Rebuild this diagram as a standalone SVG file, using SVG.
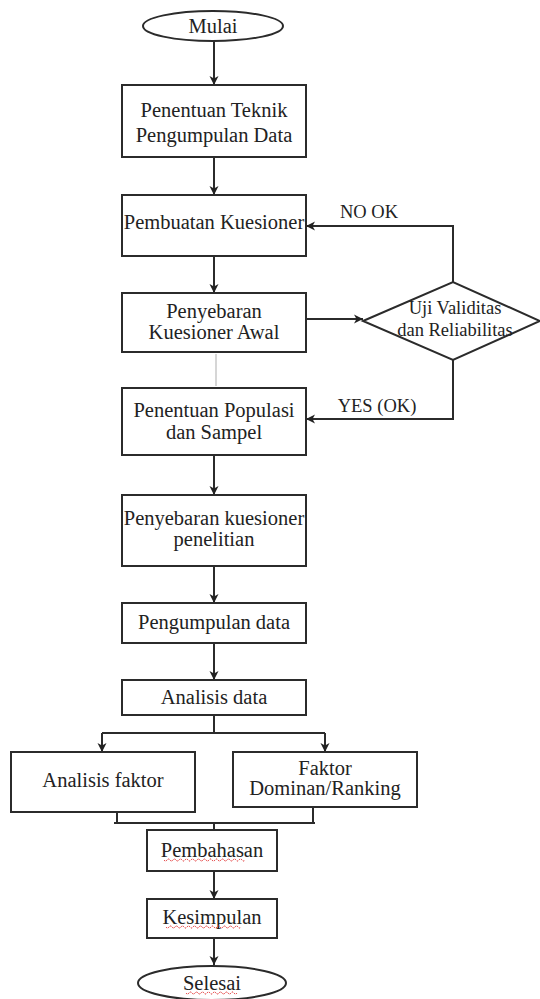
<svg xmlns="http://www.w3.org/2000/svg" width="540" height="999" viewBox="0 0 540 999">
<style>
.box{fill:#fff;stroke:#2b2b2b;stroke-width:2}
.t{font-family:"Liberation Serif","Times New Roman",serif;font-size:20.5px;fill:#222;text-anchor:middle}
.s{font-family:"Liberation Serif","Times New Roman",serif;font-size:18.5px;fill:#222;text-anchor:middle}
.c{fill:none;stroke:#2b2b2b;stroke-width:2}
.wave{fill:none;stroke:#e02020;stroke-width:1;stroke-dasharray:1.5 1}
</style>
<defs>
<marker id="ah" markerUnits="userSpaceOnUse" markerWidth="12" markerHeight="12" refX="10" refY="6" orient="auto">
<path d="M1,1.5 L10,6 L1,10.5 L3.5,6 Z" fill="#222"/>
</marker>
</defs>
<rect width="540" height="999" fill="#fff"/>
<g id="connectors">
<line class="c" x1="214" y1="41" x2="214" y2="85" marker-end="url(#ah)"/>
<line class="c" x1="214" y1="157" x2="214" y2="195" marker-end="url(#ah)"/>
<line class="c" x1="214" y1="256" x2="214" y2="293" marker-end="url(#ah)"/>
<line class="c" x1="306" y1="319" x2="363" y2="319" marker-end="url(#ah)"/>
<polyline class="c" points="453,282 453,226 306,226" marker-end="url(#ah)"/>
<polyline class="c" points="453,360 453,419 306,419" marker-end="url(#ah)"/>
<line x1="216" y1="354" x2="216" y2="386" stroke="#c8c8c8" stroke-width="1.5"/>
<line class="c" x1="214" y1="455" x2="214" y2="495" marker-end="url(#ah)"/>
<line class="c" x1="214" y1="566" x2="214" y2="603" marker-end="url(#ah)"/>
<line class="c" x1="214" y1="643" x2="214" y2="680" marker-end="url(#ah)"/>
<line class="c" x1="214" y1="715" x2="214" y2="733"/>
<line class="c" x1="102" y1="733" x2="325" y2="733"/>
<line class="c" x1="102" y1="733" x2="102" y2="752" marker-end="url(#ah)"/>
<line class="c" x1="325" y1="733" x2="325" y2="752" marker-end="url(#ah)"/>
<line class="c" x1="117" y1="812" x2="117" y2="823"/>
<line class="c" x1="313" y1="808" x2="313" y2="823"/>
<line class="c" x1="114" y1="823" x2="315" y2="823"/>
<line class="c" x1="214" y1="823" x2="214" y2="830"/>
<line class="c" x1="214" y1="871" x2="214" y2="899" marker-end="url(#ah)"/>
<line class="c" x1="214" y1="938" x2="214" y2="965" marker-end="url(#ah)"/>
</g>
<g id="mulai">
<ellipse class="box" cx="213" cy="26" rx="70" ry="15"/>
<text class="t" x="213" y="33">Mulai</text>
</g>
<g id="teknik">
<rect class="box" x="122" y="85" width="184" height="72"/>
<text class="t" x="214" y="117">Penentuan Teknik</text>
<text class="t" x="214" y="142">Pengumpulan Data</text>
</g>
<g id="pembuatan">
<rect class="box" x="122" y="195" width="184" height="61"/>
<text class="t" x="214" y="229">Pembuatan Kuesioner</text>
</g>
<g id="awal">
<rect class="box" x="122" y="293" width="184" height="59"/>
<text class="t" x="214" y="318">Penyebaran</text>
<text class="t" x="214" y="339">Kuesioner Awal</text>
</g>
<g id="uji">
<polygon class="box" points="363,321 453,282 540,321 453,360"/>
<text class="s" x="455" y="314">Uji Validitas</text>
<text class="s" x="455" y="336">dan Reliabilitas</text>
</g>
<g id="labels">
<text class="s" x="369" y="218">NO OK</text>
<text class="s" x="377" y="412">YES (OK)</text>
</g>
<g id="populasi">
<rect class="box" x="122" y="388" width="184" height="67"/>
<text class="t" x="214" y="417">Penentuan Populasi</text>
<text class="t" x="214" y="439">dan Sampel</text>
</g>
<g id="penelitian">
<rect class="box" x="122" y="495" width="184" height="71"/>
<text class="t" x="214" y="525">Penyebaran kuesioner</text>
<text class="t" x="214" y="546">penelitian</text>
</g>
<g id="pengumpulan">
<rect class="box" x="122" y="603" width="184" height="40"/>
<text class="t" x="214" y="629">Pengumpulan data</text>
</g>
<g id="analisis">
<rect class="box" x="122" y="680" width="184" height="35"/>
<text class="t" x="214" y="704">Analisis data</text>
</g>
<g id="faktor">
<rect class="box" x="11" y="752" width="184" height="60"/>
<text class="t" x="103" y="787">Analisis faktor</text>
</g>
<g id="ranking">
<rect class="box" x="233" y="752" width="184" height="55"/>
<text class="t" x="325" y="775">Faktor</text>
<text class="t" x="325" y="795">Dominan/Ranking</text>
</g>
<g id="pembahasan">
<rect class="box" x="147" y="830" width="130" height="41"/>
<text class="t" x="212" y="857">Pembahasan</text>
<path class="wave" d="M164,860 q1.5,2 3,0 t3,0 t3,0 t3,0 t3,0 t3,0 t3,0 t3,0 t3,0 t3,0 t3,0 t3,0 t3,0 t3,0 t3,0 t3,0 t3,0 t3,0 t3,0 t3,0 t3,0 t3,0 t3,0 t3,0 t3,0 t3,0 t3,0"/>
</g>
<g id="kesimpulan">
<rect class="box" x="147" y="899" width="130" height="39"/>
<text class="t" x="212" y="924">Kesimpulan</text>
<path class="wave" d="M166,927 q1.5,2 3,0 t3,0 t3,0 t3,0 t3,0 t3,0 t3,0 t3,0 t3,0 t3,0 t3,0 t3,0 t3,0 t3,0 t3,0 t3,0 t3,0 t3,0 t3,0 t3,0 t3,0 t3,0 t3,0 t3,0 t3,0"/>
</g>
<g id="selesai">
<ellipse class="box" cx="212" cy="983" rx="74" ry="17"/>
<text class="t" x="212" y="990">Selesai</text>
<path class="wave" d="M186,993 q1.5,2 3,0 t3,0 t3,0 t3,0 t3,0 t3,0 t3,0 t3,0 t3,0 t3,0 t3,0 t3,0 t3,0 t3,0 t3,0 t3,0 t3,0"/>
</g>
</svg>
